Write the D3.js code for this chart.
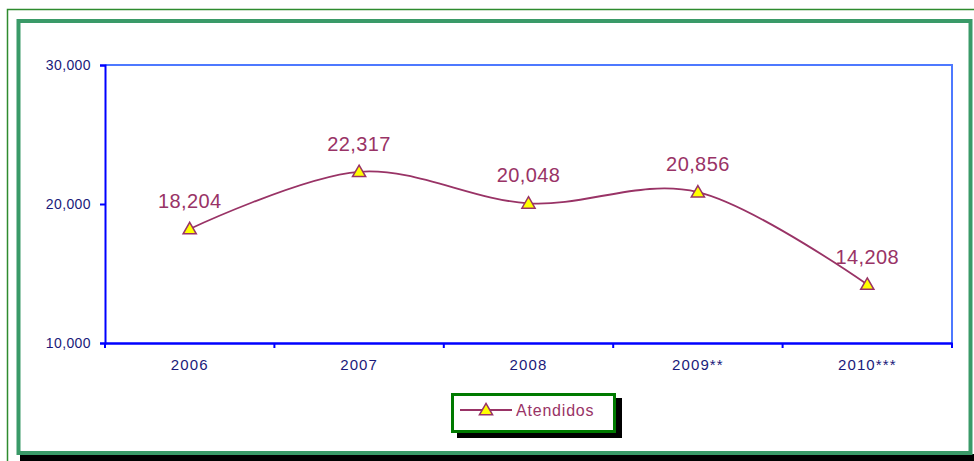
<!DOCTYPE html>
<html>
<head>
<meta charset="utf-8">
<script src="https://cdn.jsdelivr.net/npm/d3@7"></script>
<style>
  body { margin: 0; background: #fff; }
  svg { display: block; font-family: Arial, 'Liberation Sans', sans-serif; }
</style>
</head>
<body>
<div id="chart"></div>
<script>
// data
let years = ['2006', '2007', '2008', '2009**', '2010***']
let atendidos = [18204, 22317, 20048, 20856, 14208]
let yTicks = [10000, 20000, 30000]
let seriesName = 'Atendidos'

let w = 974,
    h = 461,
    plum = '#993366',
    navy = '#1a1a7a'

let svg = d3.select('#chart')
    .append('svg')
    .attr('width', w)
    .attr('height', h)

//#region frames
// outer thin frame
svg.append('path')
    .attr('d', `M7.5,${h} V9.5 H${w}`)
    .attr('stroke', '#2e8b2e')
    .attr('stroke-width', 1.5)
    .attr('fill', 'none')

// shadow under the thick frame
svg.append('rect')
    .attr('x', 20).attr('y', 454)
    .attr('width', w - 20).attr('height', 7)
    .attr('fill', '#000')

// thick green frame
svg.append('rect')
    .attr('x', 18.5).attr('y', 21)
    .attr('width', 952).attr('height', 432)
    .attr('fill', '#fff')
    .attr('stroke', '#3a9a68')
    .attr('stroke-width', 4)
//#endregion

//#region scales & axes
let margin = { left: 105, top: 65, right: 952, bottom: 343 }

let x = d3.scaleBand()
    .domain(years)
    .range([margin.left, margin.right])

let y = d3.scaleLinear()
    .domain([10000, 30000])
    .range([margin.bottom, margin.top])

// plot area border (top/right lighter blue)
svg.append('path')
    .attr('d', `M${margin.left},${margin.top} H${margin.right} V${margin.bottom}`)
    .attr('stroke', '#4d79ff')
    .attr('stroke-width', 2)
    .attr('fill', 'none')

let yAxis = svg.append('g')
    .attr('transform', `translate(${margin.left},0)`)
    .call(d3.axisLeft(y).tickValues(yTicks).tickSize(5).tickPadding(9).tickFormat(d3.format(',')))
yAxis.select('.domain').attr('stroke', '#0000ff').attr('stroke-width', 2)
yAxis.selectAll('.tick line').attr('stroke', '#0000ff').attr('stroke-width', 2)
yAxis.selectAll('.tick text')
    .attr('fill', navy)
    .attr('font-size', 14)
    .attr('letter-spacing', 0.4)
    .attr('font-family', 'Arial, Liberation Sans, sans-serif')

let xAxis = svg.append('g')
    .attr('transform', `translate(0,${margin.bottom})`)
    .call(d3.axisBottom(x).tickSize(0).tickPadding(16))
xAxis.select('.domain').attr('stroke', '#0000ff').attr('stroke-width', 2.5)
xAxis.selectAll('.tick text')
    .attr('fill', navy)
    .attr('font-size', 15)
    .attr('letter-spacing', 1.1)
    .attr('font-family', 'Arial, Liberation Sans, sans-serif')

// category separator ticks
svg.append('g')
    .selectAll('line')
    .data(years.concat(['end']))
    .enter()
    .append('line')
    .attr('x1', (d, i) => margin.left + i * x.step())
    .attr('x2', (d, i) => margin.left + i * x.step())
    .attr('y1', margin.bottom)
    .attr('y2', margin.bottom + 5)
    .attr('stroke', '#0000ff')
    .attr('stroke-width', 2)
//#endregion

//#region line
let cx = d => x(d) + x.bandwidth() / 2
let pts = years.map((d, i) => ({ year: d, value: atendidos[i] }))

let line = d3.line()
    .x(d => cx(d.year))
    .y(d => y(d.value))
    .curve(d3.curveCardinal.tension(0))

svg.append('path')
    .attr('d', line(pts))
    .attr('stroke', plum)
    .attr('stroke-width', 1.8)
    .attr('fill', 'none')

let tri = d3.symbol().type(d3.symbolTriangle).size(75)

svg.selectAll('.marker')
    .data(pts)
    .enter()
    .append('path')
    .attr('class', 'marker')
    .attr('d', tri)
    .attr('transform', d => `translate(${cx(d.year)},${y(d.value) + 1})`)
    .attr('fill', '#ffff00')
    .attr('stroke', plum)
    .attr('stroke-width', 1.5)

svg.selectAll('.label')
    .data(pts)
    .enter()
    .append('text')
    .attr('class', 'label')
    .text(d => d3.format(',')(d.value))
    .attr('x', d => cx(d.year))
    .attr('y', d => y(d.value) - 21)
    .attr('text-anchor', 'middle')
    .attr('fill', plum)
    .attr('font-size', 20)
    .attr('letter-spacing', 0.4)
//#endregion

//#region legend
let lg = svg.append('g')
lg.append('rect')
    .attr('x', 457).attr('y', 398)
    .attr('width', 165).attr('height', 40)
    .attr('fill', '#000')
lg.append('rect')
    .attr('x', 452.5).attr('y', 394.5)
    .attr('width', 162).attr('height', 37)
    .attr('fill', '#fff')
    .attr('stroke', '#007a00')
    .attr('stroke-width', 3)
lg.append('line')
    .attr('x1', 460).attr('x2', 512)
    .attr('y1', 410).attr('y2', 410)
    .attr('stroke', plum)
    .attr('stroke-width', 1.8)
lg.append('path')
    .attr('d', tri)
    .attr('transform', 'translate(486,411)')
    .attr('fill', '#ffff00')
    .attr('stroke', plum)
    .attr('stroke-width', 1.5)
lg.append('text')
    .text(seriesName)
    .attr('x', 516)
    .attr('y', 416)
    .attr('fill', plum)
    .attr('font-size', 16)
    .attr('letter-spacing', 0.8)
//#endregion
</script>
</body>
</html>
